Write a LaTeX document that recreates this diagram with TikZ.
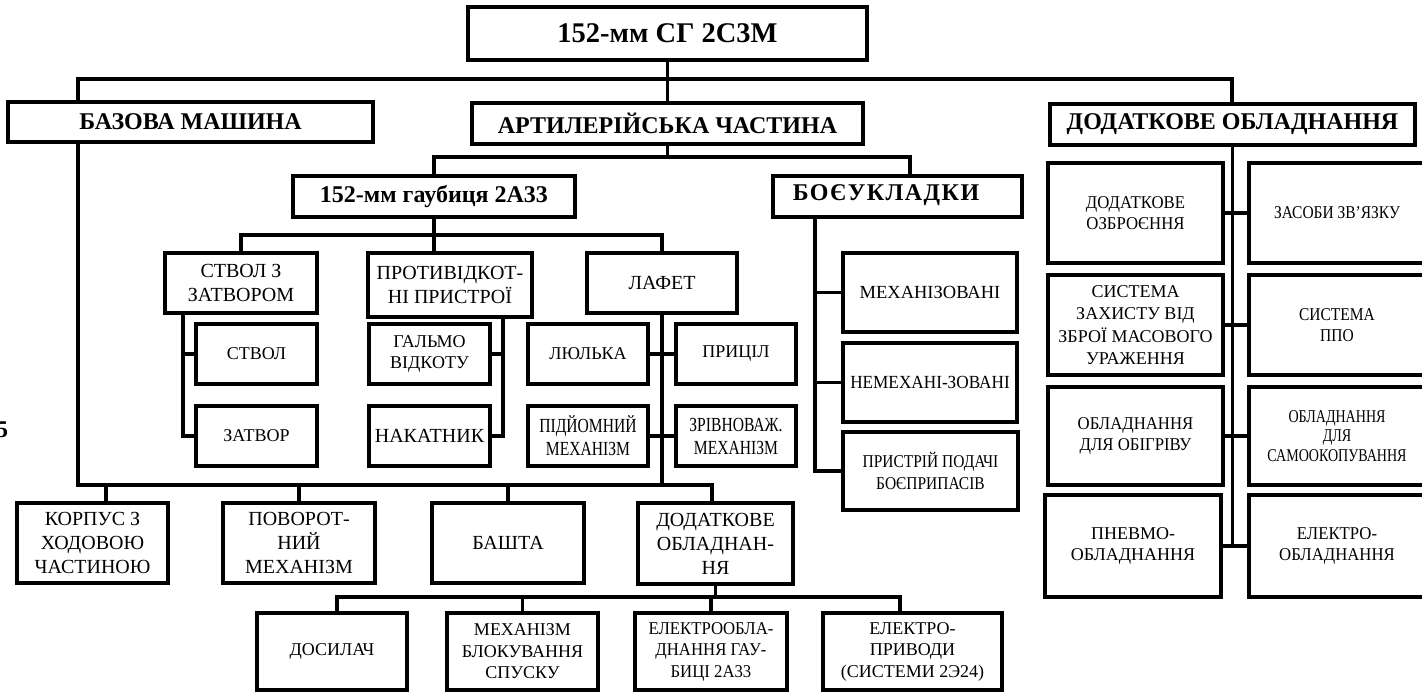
\documentclass[tikz,border=0pt]{standalone}
\usepackage{fontspec}
\usepackage{graphicx}
\setmainfont{Liberation Serif}
\newfontfamily\cfA[FakeStretch=0.78]{Liberation Serif}
\newfontfamily\cfB[FakeStretch=0.86]{Liberation Serif}
\newfontfamily\cfC[FakeStretch=0.93]{Liberation Serif}
\newfontfamily\bwide[LetterSpace=6]{Liberation Serif}
\newcommand\bx[7]{\node[box,#6,minimum width={#4-#2},minimum height={#5-#3}] (#1) at ({(#2+#4)/2},{(#3+#5)/2}) {#7};}
\tikzset{
  box/.style={draw, line width=3.6pt, fill=white, inner sep=0pt, align=center, font=\fontsize{20}{23.5}\selectfont},
  hd/.style={font=\bfseries\fontsize{24}{28}\selectfont},
  s18/.style={font=\fontsize{18}{21.5}\selectfont},
  conn/.style={line width=3.1pt},
}
\begin{document}
\begin{tikzpicture}[x=1pt,y=-1pt]
\useasboundingbox (0,0) rectangle (1422,693);
% artefact at the left margin
\node[font=\bfseries\fontsize{24}{28}\selectfont] (pg) at (2,430) {5};
% level 0 and 1
\bx{root}{468}{7}{867}{60}{font=\bfseries\fontsize{28.5}{32}\selectfont}{152-мм СГ 2С3М}
\bx{baza}{8}{102}{373}{142}{hd}{БАЗОВА МАШИНА}
\bx{art}{472}{103}{863}{144}{hd}{АРТИЛЕРІЙСЬКА ЧАСТИНА}
\bx{dod}{1050}{104}{1415}{145}{hd}{ДОДАТКОВЕ ОБЛАДНАННЯ}
% artillery part
\bx{gaub}{293}{176}{575}{217}{hd}{152-мм гаубиця 2А33}
\bx{boe}{773}{176}{1022}{217}{}{}
\node[font=\bwide\bfseries\fontsize{24}{28}\selectfont] (boet) at (886,195) {БОЄУКЛАДКИ};
\bx{stz}{165}{253}{317}{313}{}{СТВОЛ З\\ЗАТВОРОМ}
\bx{prot}{368}{253}{532}{317}{}{ПРОТИВІДКОТ-\\НІ ПРИСТРОЇ}
\bx{laf}{587}{253}{737}{313}{}{ЛАФЕТ}
\bx{stv}{196}{324}{317}{384}{s18}{СТВОЛ}
\bx{zat}{196}{406}{317}{466}{s18}{ЗАТВОР}
\bx{galm}{369}{324}{490}{384}{s18}{ГАЛЬМО\\ВІДКОТУ}
\bx{nak}{369}{406}{490}{466}{}{НАКАТНИК}
\bx{lyul}{528}{324}{648}{384}{s18}{ЛЮЛЬКА}
\bx{pric}{676}{324}{796}{384}{s18}{ПРИЦІЛ}
\bx{pid}{528}{406}{648}{466}{font=\cfA\fontsize{20}{23}\selectfont}{ПІДЙОМНИЙ\\МЕХАНІЗМ}
\bx{zriv}{676}{406}{796}{466}{font=\cfA\fontsize{20}{23}\selectfont}{ЗРІВНОВАЖ.\\МЕХАНІЗМ}
\bx{mech}{843}{253}{1017}{332}{font=\fontsize{18.5}{22}\selectfont}{МЕХАНІЗОВАНІ}
\bx{nemech}{843}{343}{1017}{422}{font=\cfC\fontsize{18.5}{22}\selectfont}{НЕМЕХАНІ-ЗОВАНІ}
\bx{prist}{843}{432}{1018}{510}{font=\cfB\fontsize{18}{22}\selectfont}{ПРИСТРІЙ ПОДАЧІ\\БОЄПРИПАСІВ}
% additional equipment (right)
\bx{dozb}{1048}{163}{1223}{263}{font=\cfC\fontsize{18}{20.5}\selectfont}{ДОДАТКОВЕ\\ОЗБРОЄННЯ}
\bx{zas}{1249}{163}{1425}{263}{font=\cfB\fontsize{18}{21}\selectfont}{ЗАСОБИ ЗВ’ЯЗКУ}
\bx{sys}{1048}{275}{1223}{375}{font=\fontsize{18}{22.5}\selectfont}{СИСТЕМА\\ЗАХИСТУ ВІД\\ЗБРОЇ МАСОВОГО\\УРАЖЕННЯ}
\bx{ppo}{1249}{275}{1425}{375}{font=\cfB\fontsize{18}{21}\selectfont}{СИСТЕМА\\ППО}
\bx{obig}{1048}{387}{1223}{485}{font=\cfC\fontsize{18}{20.5}\selectfont}{ОБЛАДНАННЯ\\ДЛЯ ОБІГРІВУ}
\bx{samo}{1249}{387}{1425}{485}{font=\cfA\fontsize{18}{19.5}\selectfont}{ОБЛАДНАННЯ\\ДЛЯ\\САМООКОПУВАННЯ}
\bx{pnev}{1045}{495}{1221}{597}{font=\fontsize{18}{21}\selectfont}{ПНЕВМО-\\ОБЛАДНАННЯ}
\bx{elek}{1249}{495}{1425}{597}{font=\cfC\fontsize{18}{21}\selectfont}{ЕЛЕКТРО-\\ОБЛАДНАННЯ}
% base machine children
\bx{korp}{17}{503}{168}{583}{font=\fontsize{20}{24}\selectfont}{КОРПУС З\\ХОДОВОЮ\\ЧАСТИНОЮ}
\bx{pov}{223}{503}{375}{583}{font=\fontsize{20}{24}\selectfont}{ПОВОРОТ-\\НИЙ\\МЕХАНІЗМ}
\bx{bash}{432}{503}{584}{583}{}{БАШТА}
\bx{dodb}{638}{503}{793}{584}{font=\fontsize{20}{24}\selectfont}{ДОДАТКОВЕ\\ОБЛАДНАН-\\НЯ}
\bx{dos}{257}{613}{407}{690}{s18}{ДОСИЛАЧ}
\bx{mbl}{447}{613}{598}{690}{s18}{МЕХАНІЗМ\\БЛОКУВАННЯ\\СПУСКУ}
\bx{eob}{635}{613}{787}{690}{font=\cfC\fontsize{18}{21.5}\selectfont}{ЕЛЕКТРООБЛА-\\ДНАННЯ ГАУ-\\БИЦІ 2А33}
\bx{epr}{823}{613}{1002}{690}{s18}{ЕЛЕКТРО-\\ПРИВОДИ\\(СИСТЕМИ 2Э24)}
% ---------- connectors ----------
\coordinate (busL) at (78,79);
\coordinate (busR) at (1232,79);
\draw[conn] (root.south) -- (art.north);
\draw[conn] (baza.north -| busL) -- (busL) -- (busR) -- (dod.north -| busR);
\coordinate (bbL) at (78,485);
\coordinate (bbR) at (712,485);
\draw[conn] (baza.south -| bbL) -- (bbL) -- (bbR) -- (dodb.north -| bbR);
\path ([xshift=13.5pt]korp.north) coordinate (k1);
\draw[conn] (k1) -- (k1 |- bbL);
\draw[conn] (pov.north) -- (pov.north |- bbL);
\draw[conn] (bash.north) -- (bash.north |- bbL);
\draw[conn] (laf.south) -- (laf.south |- bbL);
% artillery bus
\coordinate (aL) at (434,157);
\coordinate (aR) at (910,157);
\draw[conn] (art.south) -- (art.south |- aL);
\draw[conn] (gaub.north) -- (aL) -- (aR) -- (boe.north -| aR);
% howitzer bus
\coordinate (gb) at (662,235);
\draw[conn] (gaub.south) -- (gaub.south |- prot.north);
\draw[conn] (stz.north) |- (gb) -- (laf.north);
\coordinate (s1) at (183,313);
\draw[conn] (s1) |- (zat.west);
\draw[conn] (stv.west) -- (stv.west -| s1);
\coordinate (p1) at (503,317);
\draw[conn] (p1) |- (nak.east);
\draw[conn] (galm.east) -- (galm.east -| p1);
\draw[conn] (lyul.east) -- (pric.west);
\draw[conn] (pid.east) -- (zriv.west);
% ammunition racks
\coordinate (q1) at (815,217);
\draw[conn] (q1) |- (prist.west);
\draw[conn] (mech.west) -- (mech.west -| q1);
\draw[conn] (nemech.west) -- (nemech.west -| q1);
% additional equipment spine
\draw[conn] (dod.south) -- (dod.south |- elek.west);
\draw[conn] (dozb.east) -- (zas.west);
\draw[conn] (sys.east) -- (ppo.west);
\draw[conn] (obig.east) -- (samo.west);
\draw[conn] (pnev.east) -- (elek.west);
% bottom bus
\coordinate (dbL) at (337,597);
\coordinate (dbR) at (900,597);
\draw[conn] (dodb.south) -- (dodb.south |- dbL);
\draw[conn] (dos.north -| dbL) -- (dbL) -- (dbR) -- (epr.north -| dbR);
\draw[conn] (mbl.north) -- (mbl.north |- dbL);
\draw[conn] (eob.north) -- (eob.north |- dbL);
\end{tikzpicture}
\end{document}
